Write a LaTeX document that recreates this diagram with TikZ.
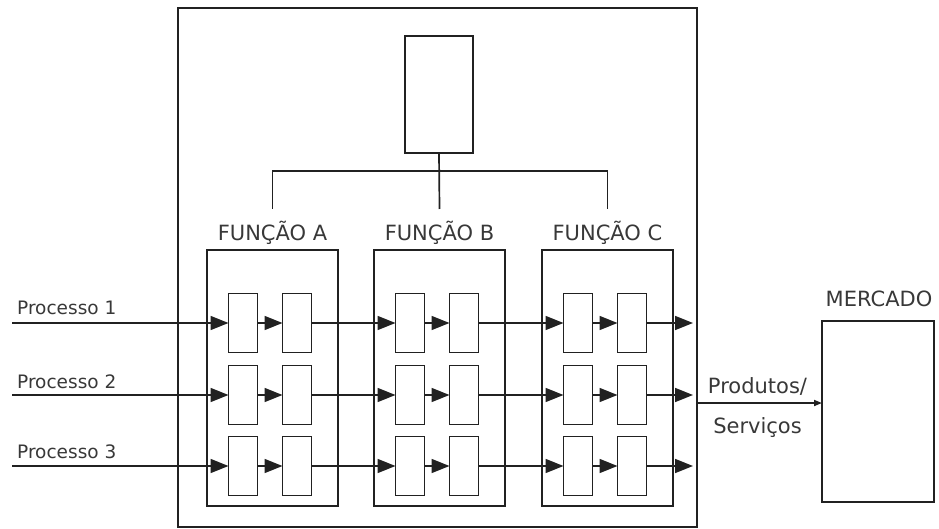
\documentclass[tikz,border=0pt]{standalone}
\usepackage{fontspec}
\setmainfont{DejaVu Sans}
\usetikzlibrary{arrows.meta,calc}
\definecolor{linec}{gray}{0.13}
\definecolor{txtc}{gray}{0.22}
\begin{document}
\begin{tikzpicture}[x=1pt,y=-1pt,
  box/.style={draw=linec, line width=1.7pt, inner sep=0pt, outer sep=0pt},
  cell/.style={box, minimum width=29pt, minimum height=59pt},
  wire/.style={draw=linec, line width=1.7pt},
  flow/.style={wire, -{Triangle[length=18pt,width=14pt]}},
  lbl/.style={text=txtc, font=\fontsize{21}{24}\selectfont, inner sep=0pt},
  plbl/.style={text=txtc, font=\fontsize{18.5}{22}\selectfont, inner sep=0pt}]
\useasboundingbox (0,0) rectangle (939,529);
% outer organisation box
\node[box, minimum width=519pt, minimum height=519pt, anchor=north west] (outer) at (178,8) {};
% top box
\node[box, minimum width=68pt, minimum height=117pt] (top) at (439,94.5) {};
% functions
\foreach \n/\L in {A/207,B/374,C/542}{
  \node[box, minimum width=131pt, minimum height=256pt, anchor=north west] (f\n) at (\L,250) {};
  \node[lbl, anchor=base] (l\n) at (\L+65.5,241) {FUNÇÃO \n};
  \coordinate (d\n) at (\L+65.5,209);
  \foreach \r/\y in {1/323,2/395,3/466}{
    \node[cell] (\n\r1) at (\L+36,\y) {};
    \node[cell] (\n\r2) at (\L+90,\y) {};
  }
}
% hierarchy bus
\coordinate (bus) at (dB |- 0,171);
\draw[wire] (top.south) -- (dB);
\draw[wire] (dA) |- (bus) -| (dC);
% processes
\foreach \r/\y/\t in {1/323/314,2/395/388,3/466/458}{
  \node[plbl, anchor=base west] (proc\r) at (17,\t) {Processo \r};
  \coordinate (s\r) at (12,\y);
  \coordinate (e\r) at (693,\y);
  \draw[flow] (s\r) -- (A\r1.west);
  \draw[flow] (A\r1.east) -- (A\r2.west);
  \draw[flow] (A\r2.east) -- (B\r1.west);
  \draw[flow] (B\r1.east) -- (B\r2.west);
  \draw[flow] (B\r2.east) -- (C\r1.west);
  \draw[flow] (C\r1.east) -- (C\r2.west);
  \draw[flow] (C\r2.east) -- (e\r);
}
% market
\node[box, minimum width=112pt, minimum height=181pt, anchor=north west] (mkt) at (822,321) {};
\node[lbl, anchor=base] (mktl) at (879,306) {MERCADO};
\coordinate (pr) at (outer.east |- 0,403);
\draw[wire, -{Triangle[length=8pt,width=6pt]}] (pr) -- (pr -| mkt.west);
\node[lbl, anchor=base] (prod) at (757.5,393) {Produtos/};
\node[lbl, anchor=base] (serv) at (757.5,433) {Serviços};
\end{tikzpicture}
\end{document}
